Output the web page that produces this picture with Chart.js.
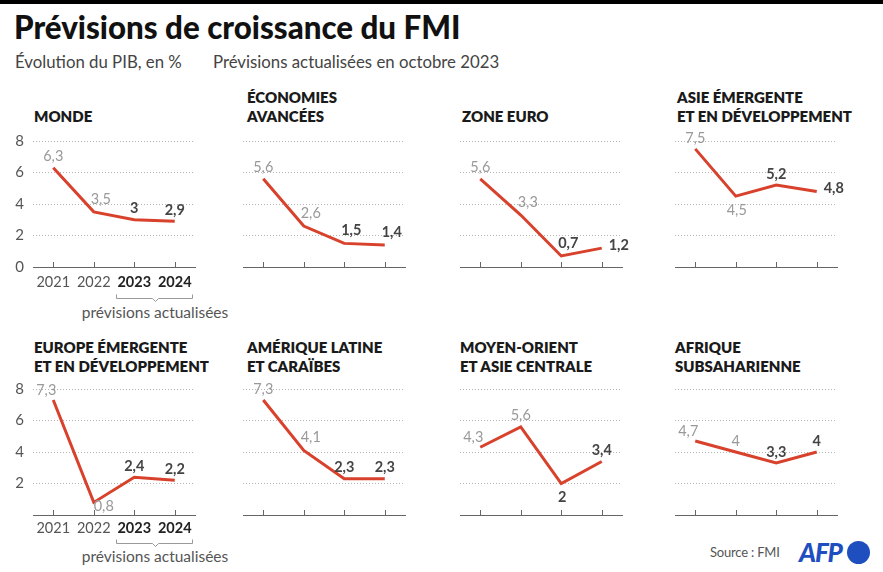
<!DOCTYPE html>
<html>
<head>
<meta charset="utf-8">
<script src="https://cdn.jsdelivr.net/npm/chart.js@4"></script>
<style>
  html, body { margin:0; padding:0; background:#fff; }
  body { width:883px; height:572px; position:relative; overflow:hidden; font-family: Lato, "Open Sans", sans-serif; }
  .abs { position:absolute; white-space:nowrap; line-height:1; }
  .bar { position:absolute; left:0; top:0; width:883px; height:4px; background:#000; }
  .title { font-weight:900; font-size:31.3px; color:#111; left:14px; top:12px; }
  .sub { font-size:16.8px; color:#444; top:54px; }
  .ptitle { position:absolute; font-weight:800; font-size:15px; color:#1a1a1a; line-height:19px; height:38px;
            display:flex; flex-direction:column; justify-content:flex-end; white-space:nowrap; }
  .prev { font-size:15.5px; color:#555; transform:translateX(-50%); }
  canvas { position:absolute; }
  .afp { font-weight:900; font-style:italic; font-size:26px; color:#1f4fbf; left:799px; top:539px; letter-spacing:-1.2px; }
  .dot { position:absolute; left:847px; top:541px; width:23px; height:23px; border-radius:50%; background:#1f4fbf; }
</style>
</head>
<body>
<div class="bar"></div>
<div class="abs title">Prévisions de croissance du FMI</div>
<div class="abs sub" style="left:15px">Évolution du PIB, en %</div>
<div class="abs sub" style="left:213px">Prévisions actualisées en octobre 2023</div>

<div class="ptitle" style="left:34px;top:88px"><span>MONDE</span></div>
<div class="ptitle" style="left:247px;top:88px"><span>ÉCONOMIES</span><span>AVANCÉES</span></div>
<div class="ptitle" style="left:462px;top:88px"><span>ZONE EURO</span></div>
<div class="ptitle" style="left:677px;top:88px"><span>ASIE ÉMERGENTE</span><span>ET EN DÉVELOPPEMENT</span></div>
<div class="ptitle" style="left:34px;top:338px"><span>EUROPE ÉMERGENTE</span><span>ET EN DÉVELOPPEMENT</span></div>
<div class="ptitle" style="left:247px;top:338px"><span>AMÉRIQUE LATINE</span><span>ET CARAÏBES</span></div>
<div class="ptitle" style="left:460px;top:338px"><span>MOYEN-ORIENT</span><span>ET ASIE CENTRALE</span></div>
<div class="ptitle" style="left:675px;top:338px"><span>AFRIQUE</span><span>SUBSAHARIENNE</span></div>

<div class="abs prev" style="left:155px;top:305px">prévisions actualisées</div>
<div class="abs prev" style="left:155px;top:549px">prévisions actualisées</div>

<div class="abs" style="left:710px;top:546px;font-size:13px;letter-spacing:-0.2px;color:#555">Source : FMI</div>
<div class="abs afp">AFP</div>
<div class="dot"></div>

<script>
// ---------- DATA ----------
const years = ['2021', '2022', '2023', '2024'];
const yTicks = [0, 2, 4, 6, 8];

const monde             = [6.3, 3.5, 3.0, 2.9];
const economiesAvancees = [5.6, 2.6, 1.5, 1.4];
const zoneEuro          = [5.6, 3.3, 0.7, 1.2];
const asieEmergente     = [7.5, 4.5, 5.2, 4.8];
const europeEmergente   = [7.3, 0.8, 2.4, 2.2];
const ameriqueLatine    = [7.3, 4.1, 2.3, 2.3];
const moyenOrient       = [4.3, 5.6, 2.0, 3.4];
const afriqueSub        = [4.7, 4.0, 3.3, 4.0];

// label placement keywords (kept apart from the data)
const placeMonde   = ['t', 'tr', 't', 't'];
const placeEco     = ['t', 'tr', 'tr', 'tr'];
const placeEuro    = ['t', 'tr', 'tr', 'r'];
const placeAsie    = ['t', 'b', 't', 'r'];
const placeEurope  = ['tl', 'br', 't', 't'];
const placeAmer    = ['t', 'tr', 't', 't'];
const placeMoyen   = ['tl', 't', 'b', 't'];
const placeAfrique = ['tl', 't', 't', 't'];

// ---------- LAYOUT ----------
const PLOT_W = 162, PLOT_H = 126, PAD_L = 30, PAD_T = 25, PAD_R = 40, AX_H = 50;
const colLeft = [33, 243, 460, 675];
const rowTop = [141, 389];
const bracketGap = [31, 28];

const OFFS = { t:[0,-11], tr:[7,-13], tl:[-7,-10], r:[17,-3], b:[1,14], br:[10,4] };
const RED = '#d8412b';
const fmt = v => String(v).replace('.', ',');

const valueLabels = {
  id: 'valueLabels',
  afterDatasetsDraw(chart, args, opts) {
    const meta = chart.getDatasetMeta(0);
    const data = chart.data.datasets[0].data;
    const ctx = chart.ctx;
    meta.data.forEach((pt, i) => {
      const o = OFFS[opts.place[i]] || OFFS.t;
      const fc = i >= 2;
      ctx.save();
      ctx.font = (fc ? 'bold ' : '') + '14.5px Lato';
      ctx.fillStyle = fc ? '#444' : '#999';
      ctx.textAlign = 'center';
      ctx.textBaseline = 'middle';
      ctx.fillText(fmt(data[i]), pt.x + o[0], pt.y + o[1]);
      ctx.restore();
    });
  }
};

const tickMarks = {
  id: 'tickMarks',
  afterDraw(chart, args, opts) {
    const x = chart.scales.x, ctx = chart.ctx, b = chart.chartArea.bottom;
    ctx.save();
    ctx.strokeStyle = '#666'; ctx.lineWidth = 1;
    x.ticks.forEach((t, i) => {
      const px = Math.round(x.getPixelForTick(i)) + 0.5;
      ctx.beginPath(); ctx.moveTo(px, b); ctx.lineTo(px, b - 5); ctx.stroke();
    });
    if (opts.bracket) {
      const x1 = Math.round(x.getPixelForValue(2)) - 18 + 0.5;
      const x2 = Math.round(x.getPixelForValue(3)) + 17 + 0.5;
      const y = Math.round(b + opts.gap) + 0.5, mid = Math.round((x1 + x2) / 2) + 0.5;
      ctx.strokeStyle = '#999';
      ctx.beginPath();
      ctx.moveTo(x1, y - 4); ctx.lineTo(x1, y); ctx.lineTo(mid - 3, y); ctx.lineTo(mid, y + 3);
      ctx.lineTo(mid + 3, y); ctx.lineTo(x2, y); ctx.lineTo(x2, y - 4);
      ctx.stroke();
    }
    ctx.restore();
  }
};

function makePanel(values, place, col, row) {
  const first = col === 0;
  const c = document.createElement('canvas');
  const w = PAD_L + PLOT_W + PAD_R, h = PAD_T + PLOT_H + AX_H;
  c.width = w; c.height = h;
  c.style.left = (colLeft[col] - PAD_L) + 'px';
  c.style.top = (rowTop[row] - PAD_T) + 'px';
  c.style.width = w + 'px'; c.style.height = h + 'px';
  document.body.appendChild(c);
  new Chart(c, {
    type: 'line',
    data: { labels: years, datasets: [{ data: values, borderColor: RED, borderWidth: 3,
      pointRadius: 0, tension: 0, fill: false, clip: false, borderJoinStyle: 'miter' }] },
    options: {
      responsive: false, animation: false, devicePixelRatio: 1,
      layout: { padding: { left: 0, top: PAD_T, right: PAD_R, bottom: 0 } },
      plugins: { legend: { display: false }, tooltip: { enabled: false },
        valueLabels: { place }, tickMarks: { bracket: first, gap: bracketGap[row] } },
      scales: {
        x: {
          offset: true,
          afterFit: s => { s.height = AX_H; },
          grid: { display: false, drawTicks: false },
          border: { display: true, color: '#666', width: 1 },
          ticks: { display: first, padding: row === 0 ? 7 : 5,
            color: ctx => ctx.index >= 2 ? '#222' : '#555',
            font: ctx => ({ size: 14.5, family: 'Lato', weight: ctx.index >= 2 ? 'bold' : 'normal' }) }
        },
        y: {
          min: yTicks[0], max: yTicks[yTicks.length - 1],
          afterFit: s => { s.width = PAD_L; },
          afterBuildTicks: s => { s.ticks = yTicks.map(v => ({ value: v })); },
          grid: { drawTicks: false, color: ctx => ctx.tick && ctx.tick.value === 0 ? 'rgba(0,0,0,0)' : '#b5b5b5', lineWidth: 1 },
          border: { display: false, dash: [1, 2] },
          ticks: { display: first, padding: 9, color: '#555', font: { size: 15, family: 'Lato' },
            callback: v => (row === 1 && v === 0) ? '' : v }
        }
      }
    },
    plugins: [valueLabels, tickMarks]
  });
}

makePanel(monde, placeMonde, 0, 0);
makePanel(economiesAvancees, placeEco, 1, 0);
makePanel(zoneEuro, placeEuro, 2, 0);
makePanel(asieEmergente, placeAsie, 3, 0);
makePanel(europeEmergente, placeEurope, 0, 1);
makePanel(ameriqueLatine, placeAmer, 1, 1);
makePanel(moyenOrient, placeMoyen, 2, 1);
makePanel(afriqueSub, placeAfrique, 3, 1);
</script>
</body>
</html>
